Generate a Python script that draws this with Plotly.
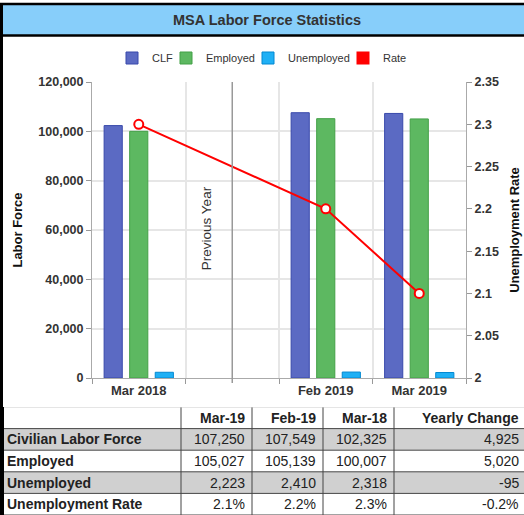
import plotly.graph_objects as go

# ---------------- data ----------------
categories = ["Mar 2018", "", "Feb 2019", "Mar 2019"]
clf = [102325, None, 107549, 107250]
employed = [100007, None, 105139, 105027]
unemployed = [2318, None, 2410, 2223]
rate_x = ["Mar 2018", "Feb 2019", "Mar 2019"]
rate = [2.3, 2.2, 2.1]

table_header = ["", "Mar-19", "Feb-19", "Mar-18", "Yearly Change"]
row_labels = ["Civilian Labor Force", "Employed", "Unemployed", "Unemployment Rate"]
val_mar19 = [107250, 105027, 2223, 2.1]
val_feb19 = [107549, 105139, 2410, 2.2]
val_mar18 = [102325, 100007, 2318, 2.3]

W, H = 524, 515
FONT = "Liberation Sans, Arial, sans-serif"


def px_x(p):
    return p / W


def px_y(p):
    return 1 - p / H


is_rate_row = [False, False, False, True]


def fmt(v, is_rate):
    return f"{v:.1f}%" if is_rate else f"{v:,.0f}"


col_mar19 = [fmt(v, r) for v, r in zip(val_mar19, is_rate_row)]
col_feb19 = [fmt(v, r) for v, r in zip(val_feb19, is_rate_row)]
col_mar18 = [fmt(v, r) for v, r in zip(val_mar18, is_rate_row)]
col_change = [fmt(a - b, r) for a, b, r in zip(val_mar19, val_mar18, is_rate_row)]
value_columns = [col_mar19, col_feb19, col_mar18, col_change]

fig = go.Figure()

fig.add_trace(go.Bar(x=categories, y=clf, name="CLF", legend="legend",
                     marker=dict(color="#5b6ac3", line=dict(color="#3949ab", width=1))))
fig.add_trace(go.Bar(x=categories, y=employed, name="Employed", legend="legend2",
                     marker=dict(color="#5db861", line=dict(color="#43a047", width=1))))
fig.add_trace(go.Bar(x=categories, y=unemployed, name="Unemployed", legend="legend3",
                     marker=dict(color="#1fb0f5", line=dict(color="#0288d1", width=1))))
fig.add_trace(go.Scatter(x=rate_x, y=rate, yaxis="y2", mode="lines+markers", name="Rate",
                         showlegend=False,
                         line=dict(color="#ff0000", width=2),
                         marker=dict(size=9, color="white", line=dict(color="#ff0000", width=2))))
# legend swatch for Rate
fig.add_trace(go.Scatter(x=[None], y=[None], yaxis="y2", mode="markers", name="Rate", legend="legend4",
                         marker=dict(symbol="square", size=13, color="#ff0000")))

# ---------------- table (hidden axes x3/y3, px-like units) ----------------
col_edges = [0, 181, 252, 323, 394, 526]
n_rows = 1 + len(row_labels)
row_edges = list(range(n_rows + 1))
row_shade = [0] + [1 if i % 2 == 0 else 0 for i in range(len(row_labels))]
fig.add_trace(go.Heatmap(
    x=col_edges, y=row_edges,
    z=[[s] * (len(col_edges) - 1) for s in row_shade],
    colorscale=[[0, "white"], [1, "#d0d0d0"]], zmin=0, zmax=1, showscale=False,
    hoverinfo="skip", xaxis="x3", yaxis="y3"))

x_dom = [px_x(92), px_x(466)]
y_dom = [px_y(378), px_y(82)]
legend_common = dict(orientation="h", yanchor="middle", xanchor="left", y=px_y(58),
                     font=dict(size=11, color="#333333"), bgcolor="rgba(0,0,0,0)")
sq_centers = [132, 186, 268, 363]

fig.update_layout(
    template="none",
    width=W, height=H,
    margin=dict(l=0, r=0, t=0, b=0),
    paper_bgcolor="white", plot_bgcolor="white",
    font=dict(family=FONT, color="#333333"),
    barmode="group", bargap=0.18, bargroupgap=0.29,
    showlegend=True,
    legend=dict(x=px_x(sq_centers[0] - 20), **legend_common),
    legend2=dict(x=px_x(sq_centers[1] - 20), **legend_common),
    legend3=dict(x=px_x(sq_centers[2] - 20), **legend_common),
    legend4=dict(x=px_x(sq_centers[3] - 20), **legend_common),
    xaxis=dict(domain=x_dom, type="category", categoryorder="array", categoryarray=categories,
               tickson="boundaries", ticks="outside", ticklen=5, tickcolor="#999999",
               showgrid=True, gridcolor="#e6e6e6", gridwidth=1.5,
               showline=True, linecolor="#aaaaaa", linewidth=1,
               tickfont=dict(size=13, color="#333333", weight="bold"),
               automargin=False, zeroline=False),
    yaxis=dict(domain=y_dom, range=[0, 120000], dtick=20000, tickformat=",",
               ticks="outside", ticklen=5, tickcolor="#999999",
               showgrid=True, gridcolor="#e6e6e6", gridwidth=2,
               showline=True, linecolor="#aaaaaa", linewidth=1, zeroline=False,
               tickfont=dict(size=12.5, color="#333333", weight="bold"),
               title=dict(text="Labor Force", standoff=12,
                          font=dict(size=13, color="#111111", weight="bold")),
               automargin=False),
    yaxis2=dict(overlaying="y", side="right", anchor="x", range=[2, 2.35], dtick=0.05,
                ticks="outside", ticklen=5, tickcolor="#999999",
                showgrid=False, showline=True, linecolor="#aaaaaa", linewidth=1, zeroline=False,
                tickfont=dict(size=12.5, color="#333333", weight="bold"),
                title=dict(text="Unemployment Rate", standoff=12,
                           font=dict(size=13, color="#111111", weight="bold")),
                automargin=False),
    xaxis3=dict(domain=[0, 1], range=[0, W], anchor="y3", visible=False, fixedrange=True),
    yaxis3=dict(domain=[px_y(515), px_y(407)], range=[n_rows, 0], anchor="x3", visible=False,
                fixedrange=True),
)

shapes = [
    # title bar
    dict(type="rect", xref="paper", yref="paper", x0=0, x1=1, y0=px_y(35), y1=px_y(4),
         fillcolor="#87cefa", line=dict(width=0), layer="below"),
    dict(type="line", xref="paper", yref="paper", x0=0, x1=1, y0=px_y(4), y1=px_y(4),
         line=dict(color="black", width=2.5)),
    dict(type="line", xref="paper", yref="paper", x0=0, x1=1, y0=px_y(35.5), y1=px_y(35.5),
         line=dict(color="black", width=2.5)),
    # left border of chart
    dict(type="line", xref="paper", yref="paper", x0=px_x(1.5), x1=px_x(1.5), y0=px_y(407), y1=px_y(3),
         line=dict(color="black", width=3)),
    # previous-year separator
    dict(type="line", xref="x", yref="y domain", x0=1, x1=1, y0=-5 / 296, y1=1,
         line=dict(color="#999999", width=1.5)),
]
# table borders
for xe in col_edges[1:]:
    shapes.append(dict(type="line", xref="x3", yref="y3", x0=xe, x1=xe, y0=0, y1=n_rows,
                       line=dict(color="#444444", width=1)))
for r in row_edges[1:]:
    shapes.append(dict(type="line", xref="x3", yref="y3", x0=0, x1=col_edges[-1], y0=r, y1=r,
                       line=dict(color="#444444", width=1)))
shapes.append(dict(type="line", xref="x3", yref="y3", x0=0, x1=col_edges[-1], y0=0, y1=0,
                   line=dict(color="#cccccc", width=1)))
shapes.append(dict(type="line", xref="x3", yref="y3", x0=2, x1=2, y0=0, y1=n_rows,
                   line=dict(color="black", width=4)))
fig.update_layout(shapes=shapes)

fig.add_annotation(x=px_x(267), y=px_y(20), xref="paper", yref="paper",
                   text="<b>MSA Labor Force Statistics</b>", showarrow=False,
                   font=dict(size=14.5, color="#333333"), xanchor="center", yanchor="middle")
fig.add_annotation(x=1, y=0.507, xref="x", yref="y domain", xshift=-25,
                   text="Previous Year", textangle=-90, showarrow=False,
                   font=dict(size=13.5, color="#333333"), xanchor="center", yanchor="middle")

# table texts
tfont = dict(family=FONT, size=14, color="#222222")
PAD = 5


def right_anchor(edge):
    x = min(edge, W)
    return x, -PAD + (edge - x) - 0.01


for c, h in enumerate(table_header):
    if h:
        ax_x, sh = right_anchor(col_edges[c + 1])
        fig.add_annotation(x=ax_x, y=0.5, xref="x3", yref="y3", xshift=sh,
                           text=f"<b>{h}</b>", showarrow=False, xanchor="right", yanchor="middle",
                           font=tfont)
for r, lab in enumerate(row_labels):
    fig.add_annotation(x=col_edges[0], y=r + 1.5, xref="x3", yref="y3", xshift=PAD,
                       text=f"<b>{lab}</b>", showarrow=False, xanchor="left", yanchor="middle",
                       font=tfont)
    for c, col in enumerate(value_columns):
        ax_x, sh = right_anchor(col_edges[c + 2])
        fig.add_annotation(x=ax_x - 0.01, y=r + 1.5, xref="x3", yref="y3", xshift=sh,
                           text=col[r], showarrow=False, xanchor="right", yanchor="middle",
                           font=tfont)

fig.write_html("out.html", config={"displayModeBar": False},
               post_script="document.body.style.margin='0';")
